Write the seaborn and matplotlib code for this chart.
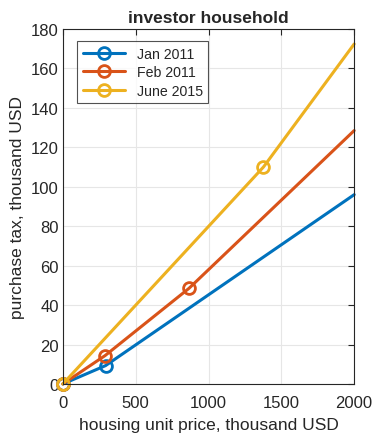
import matplotlib
matplotlib.use('Agg')
import matplotlib.pyplot as plt
import seaborn as sns

# data: housing price vs purchase tax, thousand USD
jan2011_x = [0, 293, 2000]
jan2011_y = [0, 9.3, 96]
feb2011_x = [0, 290, 866, 2000]
feb2011_y = [0, 14.4, 48.5, 128.5]
jun2015_x = [0, 1377, 2000]
jun2015_y = [0, 110, 172.4]

labels = ['Jan 2011', 'Feb 2011', 'June 2015']
colors = ['#0072BD', '#D95319', '#EDB120']

sns.set_style('white')
plt.rcParams['font.family'] = ['Liberation Sans', 'DejaVu Sans']

fig = plt.figure(figsize=(3.74, 4.35), dpi=100)
ax = fig.add_axes([0.168, 0.115, 0.779, 0.816])

series = [(jan2011_x, jan2011_y), (feb2011_x, feb2011_y), (jun2015_x, jun2015_y)]
for (xs, ys), lab, c in zip(series, labels, colors):
    # markers on all points except the last one (end of range)
    sns.lineplot(x=xs, y=ys, ax=ax, color=c, lw=2.2, label=lab,
                 marker='o', markevery=list(range(len(xs) - 1)),
                 ms=8.5, mfc='none', mec=c, mew=2, clip_on=False)

ax.set_xlim(0, 2000)
ax.set_ylim(0, 180)
ax.set_xticks(range(0, 2001, 500))
ax.set_yticks(range(0, 181, 20))
ax.grid(True, color='#e6e6e6', lw=0.8)
ax.tick_params(direction='in', top=True, right=True, length=4, width=0.8,
               colors='#262626', labelsize=12, pad=3)
ax.tick_params(axis='x', pad=8)
for s in ax.spines.values():
    s.set_color('#262626')
    s.set_linewidth(0.8)

ax.set_title('investor household', fontsize=12.5, fontweight='bold', pad=5)
ax.set_xlabel('housing unit price, thousand USD', fontsize=12.5, color='#262626', labelpad=5)
ax.set_ylabel('purchase tax, thousand USD', fontsize=12.5, color='#262626', labelpad=4)

leg = ax.legend(loc='upper left', bbox_to_anchor=(0.025, 0.985), fontsize=10.2,
                frameon=True, fancybox=False, edgecolor='#262626',
                handlelength=3.0, borderpad=0.4, labelspacing=0.3)
leg.get_frame().set_linewidth(0.8)

fig.savefig('out.png', dpi=100)
